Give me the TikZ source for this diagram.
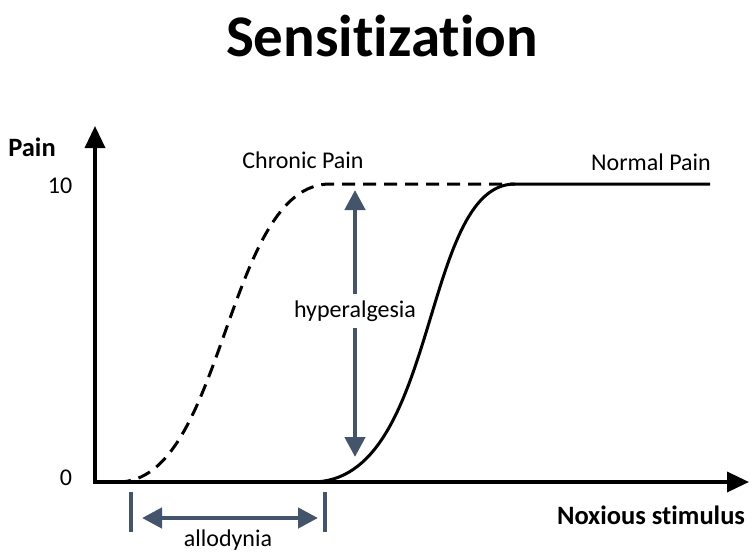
\documentclass[tikz,border=0pt]{standalone}
\usepackage{fontspec}
\setmainfont{Carlito}[Ligatures=NoCommon]
\usetikzlibrary{arrows.meta}
\definecolor{slate}{RGB}{68,84,106}
\begin{document}
\begin{tikzpicture}[x=1pt,y=-1pt,
  axis/.style={line width=3.5pt,-{Triangle[length=22pt,width=20pt]}},
  curve/.style={line width=3pt},
  dimarrow/.style={slate,line width=4.5pt,{Triangle[length=20pt,width=20pt]}-{Triangle[length=20pt,width=20pt]}},
  tick/.style={slate,line width=3.5pt},
  lbl/.style={font=\fontsize{24}{26}\selectfont,inner sep=1pt},
  blbl/.style={font=\bfseries\fontsize{26.5}{28}\selectfont,inner sep=1pt}]
\useasboundingbox (0,0) rectangle (754,554);
\node[font=\bfseries\fontsize{59}{64}\selectfont] (title) at (382,36) {Sensitization};
% axes
\coordinate (origin) at (95,482);
\coordinate (ytip) at (95,126);
\coordinate (xtip) at (749,482);
\draw[axis] (origin) -- (ytip);
\draw[axis] ([xshift=-1.75pt]origin) -- (xtip);
\node[blbl] (painlbl) at (32,147) {Pain};
\node[lbl] (ten) at (60,186) {10};
\node[lbl] (zero) at (66,478) {0};
\node[blbl] (noxlbl) at (651,515) {Noxious stimulus};
% curves
\coordinate (c0) at (118,482);
\coordinate (c1) at (330,184);
\coordinate (c2) at (515,184);
\coordinate (n0) at (312,482);
\coordinate (n1) at (515,184);
\coordinate (n2) at (710,184);
\draw[curve,dash pattern=on 13pt off 8pt] (c0) .. controls (225,482) and (225,184) .. (c1) -- (c2);
\draw[curve] (n0) .. controls (440,482) and (420,184) .. (n1) -- (n2);
\node[lbl] (chronic) at (303,160) {Chronic Pain};
\node[lbl] (normal) at (651,162) {Normal Pain};
% hyperalgesia
\coordinate (htop) at (355,190);
\coordinate (hbot) at (355,457);
\node[lbl,fill=white,inner sep=6pt] (hyp) at (355,311) {hyperalgesia};
\draw[slate,line width=4.5pt,-{Triangle[length=20pt,width=20pt]}] (hyp.north) -- (htop);
\draw[slate,line width=4.5pt,-{Triangle[length=20pt,width=20pt]}] (hyp.south) -- (hbot);
% allodynia
\coordinate (t1a) at (131,492);
\coordinate (t1b) at (131,532);
\coordinate (t2a) at (325,492);
\coordinate (t2b) at (325,532);
\draw[tick] (t1a) -- (t1b);
\draw[tick] (t2a) -- (t2b);
\coordinate (aleft) at (142,518);
\coordinate (aright) at (318,518);
\draw[dimarrow] (aleft) -- (aright);
\node[lbl] (allo) at (228,540) {allodynia};
\end{tikzpicture}
\end{document}
